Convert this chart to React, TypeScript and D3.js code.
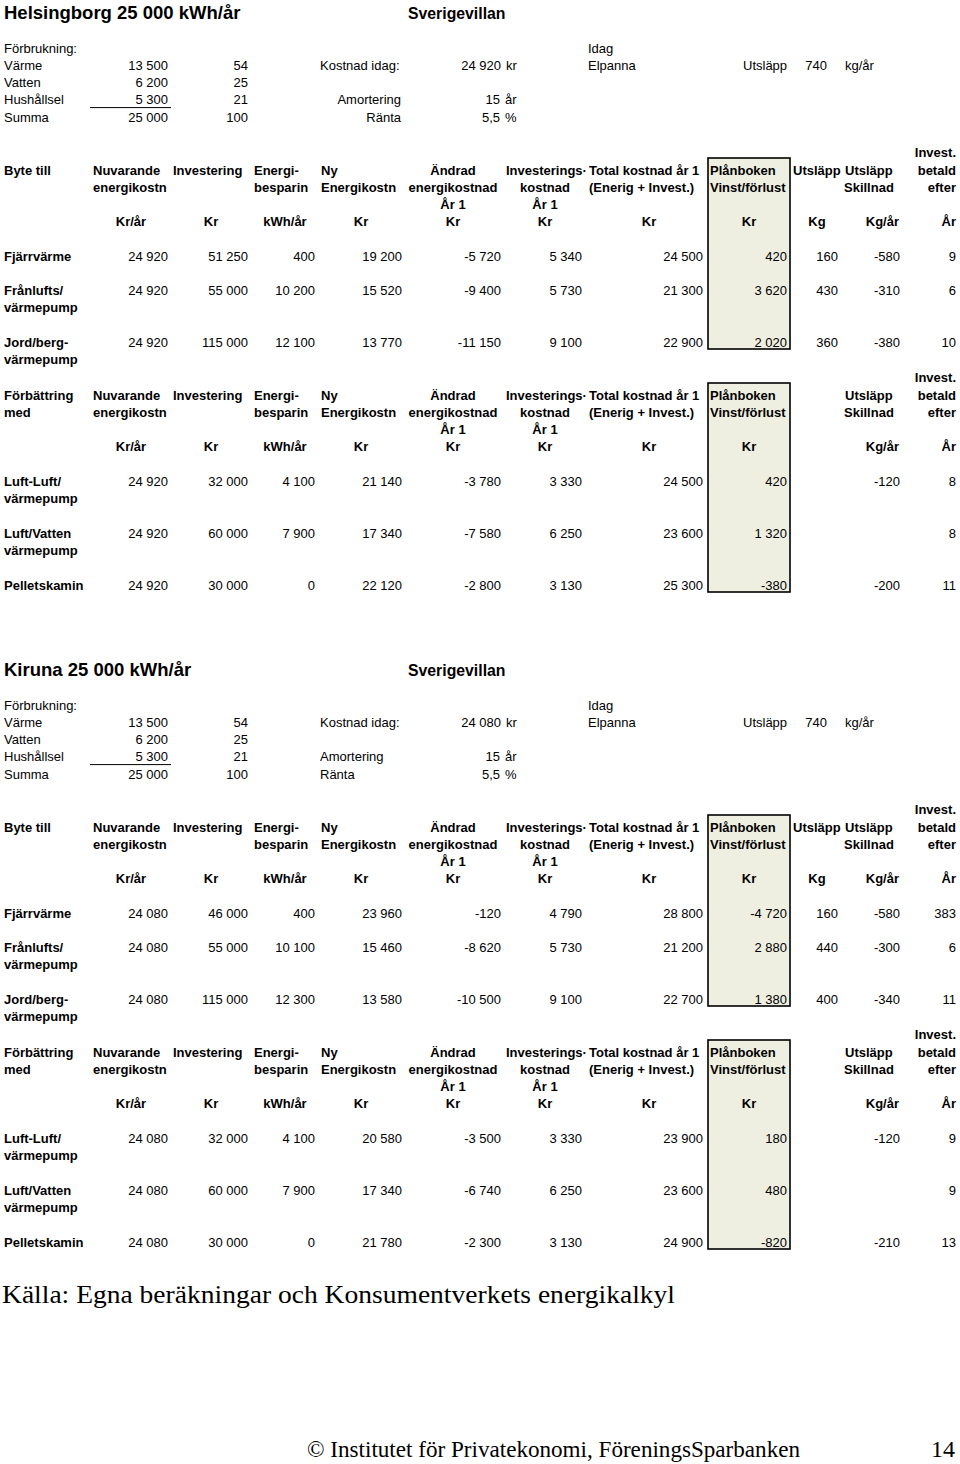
import React from 'react';
import * as d3 from 'd3';

// förbrukning (samma för båda orterna)
const usageLabels = ['Värme', 'Vatten', 'Hushållsel', 'Summa'];
const usageKwh = [13500, 6200, 5300, 25000];
const usagePct = [54, 25, 21, 100];

const amortering = 15;
const ranta = 5.5;
const utslappIdag = 740;

const switchLabels = [['Fjärrvärme'], ['Frånlufts/', 'värmepump'], ['Jord/berg-', 'värmepump']];
const improveLabels = [['Luft-Luft/', 'värmepump'], ['Luft/Vatten', 'värmepump'], ['Pelletskamin']];

// kolumner: nuv. kostn, invest, besparing, ny kostn, ändrad, investkostn, total, plånboken, utsläpp, skillnad, år
const hbgSwitch = [
  [24920, 51250, 400, 19200, -5720, 5340, 24500, 420, 160, -580, 9],
  [24920, 55000, 10200, 15520, -9400, 5730, 21300, 3620, 430, -310, 6],
  [24920, 115000, 12100, 13770, -11150, 9100, 22900, 2020, 360, -380, 10],
];
const hbgImprove = [
  [24920, 32000, 4100, 21140, -3780, 3330, 24500, 420, null, -120, 8],
  [24920, 60000, 7900, 17340, -7580, 6250, 23600, 1320, null, null, 8],
  [24920, 30000, 0, 22120, -2800, 3130, 25300, -380, null, -200, 11],
];
const kirSwitch = [
  [24080, 46000, 400, 23960, -120, 4790, 28800, -4720, 160, -580, 383],
  [24080, 55000, 10100, 15460, -8620, 5730, 21200, 2880, 440, -300, 6],
  [24080, 115000, 12300, 13580, -10500, 9100, 22700, 1380, 400, -340, 11],
];
const kirImprove = [
  [24080, 32000, 4100, 20580, -3500, 3330, 23900, 180, null, -120, 9],
  [24080, 60000, 7900, 17340, -6740, 6250, 23600, 480, null, null, 9],
  [24080, 30000, 0, 21780, -2300, 3130, 24900, -820, null, -210, 13],
];

const sections = [
  { title: 'Helsingborg 25 000 kWh/år', cost: 24920, sw: hbgSwitch, imp: hbgImprove, loanRight: true, top: 0 },
  { title: 'Kiruna 25 000 kWh/år', cost: 24080, sw: kirSwitch, imp: kirImprove, loanRight: false, top: 657 },
];

const locale = d3.formatLocale({ decimal: ',', thousands: ' ', grouping: [3], currency: ['', ''], minus: '-' });
const fmtInt = locale.format(',d');
const fmtDec = locale.format(',.1f');

const FONT = '"Liberation Sans", Arial, sans-serif';
const SERIF = '"Liberation Serif", "DejaVu Serif", serif';

// högerkant för varje kolumn
const colRight = d3
  .scaleOrdinal<number, number>()
  .domain(d3.range(11))
  .range([168, 248, 315, 402, 501, 582, 703, 787, 838, 900, 956]);

function T({ x, y, children, anchor = 'start', bold = false, size = 13 }: any) {
  // y = mitten på versalerna
  return (
    <text
      x={x}
      y={y + size * 0.36}
      textAnchor={anchor}
      fontWeight={bold ? 'bold' : 'normal'}
      fontSize={size}
      fontFamily={FONT}
      fill="#000"
    >
      {children}
    </text>
  );
}

function Header({ y, first, second, withKg }: any) {
  const r = [y, y + 17, y + 34, y + 51];
  return (
    <g>
      <T x={956} y={y - 18} anchor="end" bold>Invest.</T>
      <T x={4} y={r[0]} bold>{first}</T>
      {second && <T x={4} y={r[1]} bold>{second}</T>}
      <T x={93} y={r[0]} bold>Nuvarande</T>
      <T x={93} y={r[1]} bold>energikostn</T>
      <T x={173} y={r[0]} bold>Investering</T>
      <T x={254} y={r[0]} bold>Energi-</T>
      <T x={254} y={r[1]} bold>besparin</T>
      <T x={321} y={r[0]} bold>Ny</T>
      <T x={321} y={r[1]} bold>Energikostn</T>
      <T x={453} y={r[0]} anchor="middle" bold>Ändrad</T>
      <T x={453} y={r[1]} anchor="middle" bold>energikostnad</T>
      <T x={453} y={r[2]} anchor="middle" bold>År 1</T>
      <T x={506} y={r[0]} bold>Investerings·</T>
      <T x={545} y={r[1]} anchor="middle" bold>kostnad</T>
      <T x={545} y={r[2]} anchor="middle" bold>År 1</T>
      <T x={589} y={r[0]} bold>Total kostnad år 1</T>
      <T x={589} y={r[1]} bold>(Enerig + Invest.)</T>
      <T x={710} y={r[0]} bold>Plånboken</T>
      <T x={710} y={r[1]} bold>Vinst/förlust</T>
      {withKg && <T x={793} y={r[0]} bold>Utsläpp</T>}
      <T x={845} y={r[0]} bold>Utsläpp</T>
      <T x={844} y={r[1]} bold>Skillnad</T>
      <T x={956} y={r[0]} anchor="end" bold>betald</T>
      <T x={956} y={r[1]} anchor="end" bold>efter</T>
      <T x={131} y={r[3]} anchor="middle" bold>Kr/år</T>
      <T x={211} y={r[3]} anchor="middle" bold>Kr</T>
      <T x={285} y={r[3]} anchor="middle" bold>kWh/år</T>
      <T x={361} y={r[3]} anchor="middle" bold>Kr</T>
      <T x={453} y={r[3]} anchor="middle" bold>Kr</T>
      <T x={545} y={r[3]} anchor="middle" bold>Kr</T>
      <T x={649} y={r[3]} anchor="middle" bold>Kr</T>
      <T x={749} y={r[3]} anchor="middle" bold>Kr</T>
      {withKg && <T x={817} y={r[3]} anchor="middle" bold>Kg</T>}
      <T x={899} y={r[3]} anchor="end" bold>Kg/år</T>
      <T x={956} y={r[3]} anchor="end" bold>År</T>
    </g>
  );
}

function Rows({ rows, labels, ys }: any) {
  return (
    <g>
      {rows.map((row: (number | null)[], i: number) => (
        <g key={i}>
          {labels[i].map((l: string, j: number) => (
            <T key={l + j} x={4} y={ys[i] + j * 17.5} bold>{l}</T>
          ))}
          {row.map((v, c) =>
            v === null ? null : (
              <T key={c} x={colRight(c)} y={ys[i]} anchor="end">{fmtInt(v)}</T>
            )
          )}
        </g>
      ))}
    </g>
  );
}

function Section({ s }: any) {
  const o = s.top;
  const uy = d3.range(4).map((i) => o + 65 + i * 17.3);
  return (
    <g>
      <T x={4} y={o + 12} bold size={18.5}>{s.title}</T>
      <T x={408} y={o + 13} bold size={15.8}>Sverigevillan</T>

      <T x={4} y={o + 48}>Förbrukning:</T>
      <T x={588} y={o + 48}>Idag</T>
      {usageLabels.map((l, i) => (
        <g key={l}>
          <T x={4} y={uy[i]}>{l}</T>
          <T x={168} y={uy[i]} anchor="end">{fmtInt(usageKwh[i])}</T>
          <T x={248} y={uy[i]} anchor="end">{fmtInt(usagePct[i])}</T>
        </g>
      ))}
      <line x1={90} x2={171} y1={uy[2] + 8} y2={uy[2] + 8} stroke="#000" strokeWidth={1} />

      <T x={320} y={uy[0]}>Kostnad idag:</T>
      <T x={501} y={uy[0]} anchor="end">{fmtInt(s.cost)}</T>
      <T x={506} y={uy[0]}>kr</T>
      <T x={588} y={uy[0]}>Elpanna</T>
      <T x={743} y={uy[0]}>Utsläpp</T>
      <T x={827} y={uy[0]} anchor="end">{fmtInt(utslappIdag)}</T>
      <T x={845} y={uy[0]}>kg/år</T>

      <T x={s.loanRight ? 401 : 320} y={uy[2]} anchor={s.loanRight ? 'end' : 'start'}>Amortering</T>
      <T x={s.loanRight ? 401 : 320} y={uy[3]} anchor={s.loanRight ? 'end' : 'start'}>Ränta</T>
      <T x={500} y={uy[2]} anchor="end">{fmtInt(amortering)}</T>
      <T x={505} y={uy[2]}>år</T>
      <T x={500} y={uy[3]} anchor="end">{fmtDec(ranta)}</T>
      <T x={505} y={uy[3]}>%</T>

      {/* markerad kolumn Plånboken */}
      <rect x={708} y={o + 158} width={82} height={191} fill="#efefe1" stroke="#000" strokeWidth={1.6} />
      <rect x={708} y={o + 383} width={82} height={209} fill="#efefe1" stroke="#000" strokeWidth={1.6} />

      <Header y={o + 170} first="Byte till" withKg />
      <Rows rows={s.sw} labels={switchLabels} ys={[o + 256, o + 290, o + 342]} />

      <Header y={o + 395} first="Förbättring" second="med" withKg={false} />
      <Rows rows={s.imp} labels={improveLabels} ys={[o + 481, o + 533, o + 585]} />
    </g>
  );
}

export default function App() {
  return (
    <svg
      width={960}
      height={1464}
      style={{ position: 'absolute', top: 0, left: 0, background: '#fff' }}
    >
      <rect width={960} height={1464} fill="#fff" />
      {sections.map((s) => (
        <Section key={s.title} s={s} />
      ))}
      <text x={2} y={1303} fontFamily={SERIF} fontSize={26} textLength={673} lengthAdjust="spacingAndGlyphs">
        Källa: Egna beräkningar och Konsumentverkets energikalkyl
      </text>
      <text x={307} y={1457} fontFamily={SERIF} fontSize={24} textLength={493} lengthAdjust="spacingAndGlyphs">
        © Institutet för Privatekonomi, FöreningsSparbanken
      </text>
      <text x={955} y={1457} textAnchor="end" fontFamily={SERIF} fontSize={24}>
        14
      </text>
    </svg>
  );
}
